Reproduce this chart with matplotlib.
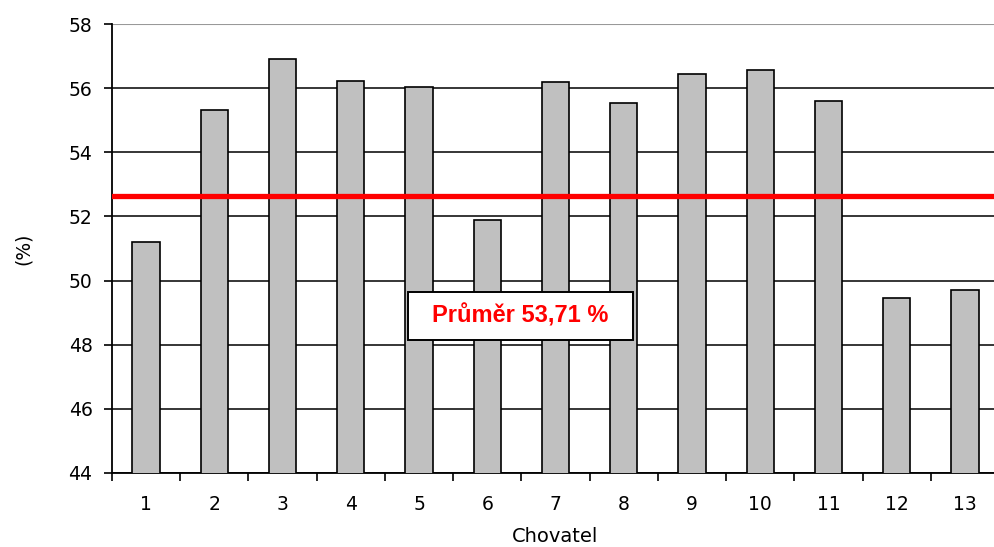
import matplotlib.pyplot as plt
from matplotlib.patches import Rectangle

plt.rcParams['font.family'] = ['DejaVu Sans']

chovatel = ["1", "2", "3", "4", "5", "6", "7", "8", "9", "10", "11", "12", "13"]
podil = [51.21, 55.32, 56.92, 56.23, 56.04, 51.90, 56.19, 55.55, 56.43, 56.58, 55.61, 49.46, 49.70]
prumer_linie = 52.64
prumer_text = "Průměr 53,71 %"
y_ticks = [44, 46, 48, 50, 52, 54, 56, 58]

fig = plt.figure(figsize=(9.95, 5.47), dpi=100)
ax = fig.add_axes([112 / 995, 74 / 547, 887 / 995, 449 / 547])

x = list(range(len(chovatel)))
ax.bar(x, podil, width=0.4, color="#C0C0C0", edgecolor="black", linewidth=1.2, zorder=3)

# prumerna linie
ax.axhline(prumer_linie, color="red", linewidth=3.8, zorder=4)

ax.set_ylim(44, 58)
ax.set_xlim(-0.5, len(chovatel) - 0.5)
ax.set_yticks(y_ticks)
ax.set_yticklabels([str(v) for v in y_ticks], fontsize=13.5)

# popisky mezi tiky na hranicich kategorii
ax.set_xticks([i - 0.5 for i in range(len(chovatel) + 1)])
ax.set_xticklabels([])
ax.set_xticks(x, minor=True)
ax.set_xticklabels(chovatel, minor=True, fontsize=13.5)
ax.tick_params(axis="x", which="minor", length=0, pad=16)
ax.tick_params(axis="x", which="major", length=6, width=1.2, direction="out")
ax.tick_params(axis="y", length=6, width=1.2, direction="out", pad=8)

ax.yaxis.grid(True, color="black", linewidth=1.1, zorder=0)
ax.set_axisbelow(True)
ax.yaxis.get_gridlines()[-1].set_color("#999999")
ax.yaxis.get_gridlines()[-1].set_linewidth(1.5)

for s in ["top", "right"]:
    ax.spines[s].set_visible(False)
ax.spines["left"].set_linewidth(1.3)
ax.spines["bottom"].set_linewidth(1.3)

ax.set_xlabel("Chovatel", fontsize=14, labelpad=9)
ax.set_ylabel("(%)", fontsize=13.5, labelpad=26)

# ramecek s prumerem
box = Rectangle((408 / 995, (547 - 340) / 547), 225 / 995, 48 / 547,
                transform=fig.transFigure, facecolor="white", edgecolor="black",
                linewidth=1.4, zorder=5)
fig.patches.append(box)
fig.text(520 / 995, (547 - 316) / 547, prumer_text, color="red", fontsize=17,
         fontweight="bold", family="Liberation Sans", ha="center", va="center", zorder=6)

fig.savefig("out.png", dpi=100)
